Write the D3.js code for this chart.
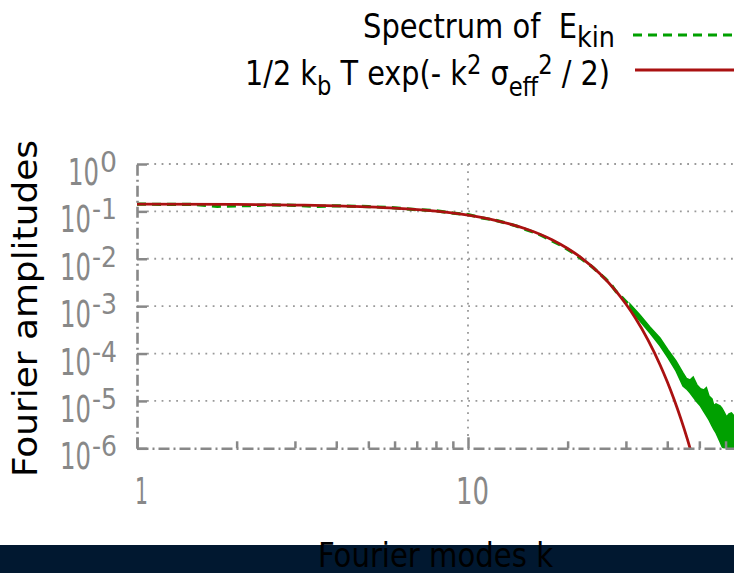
<!DOCTYPE html>
<html>
<head>
<meta charset="utf-8">
<script src="https://cdn.jsdelivr.net/npm/d3@7"></script>
<style>
  html, body { margin: 0; padding: 0; background: #fff; overflow: hidden; }
  svg { display: block; }
  text { font-family: "DejaVu Sans Condensed", "DejaVu Sans", sans-serif; font-stretch: condensed; }
</style>
</head>
<body>
<div id="chart"></div>
<script>
// Spectrum of E_kin (dashed green)
const kSpec = [1, 1.5, 1.75, 2, 2.25, 2.5, 3, 3.5, 4, 5, 6, 7, 8, 9, 10, 11, 12, 13, 14, 15,
  16, 17, 18, 19, 20, 21, 22, 23, 24, 25, 26, 27, 28, 29, 30, 31];
const ampSpec = [0.142, 0.140, 0.128, 0.131, 0.133, 0.138, 0.134, 0.128, 0.131, 0.126, 0.119,
  0.109, 0.103, 0.092, 0.086, 0.073, 0.066, 0.057, 0.049, 0.041, 0.0355, 0.029, 0.0235,
  0.0196, 0.0158, 0.0128, 0.0100, 0.0080, 0.0063, 0.0048, 0.0038, 0.0029, 0.00205,
  0.0016, 0.00125, 0.00098];

// noisy tail of the spectrum: upper / lower edge of the green band
const kTail = [30.86, 33.08, 35.46, 38.03, 40.21, 42.5, 44.62, 45.7, 46.85, 47.9, 49.18, 50.4,
  51.64, 52.5, 53.47, 54.6, 55.3, 56.14, 57.72, 58.5, 59.35, 60.4, 61.45, 62.5, 63.63, 66];
const tailUpper = [1.11e-3, 6.52e-4, 3.64e-4, 2.13e-4, 1.19e-4, 6.98e-5, 3.9e-5, 3.0e-5, 2.77e-5,
  3.2e-5, 2.18e-5, 1.8e-5, 1.71e-5, 1.9e-5, 1.27e-5, 1.1e-5, 8.0e-6, 8.64e-6, 7.85e-6, 7.0e-6,
  5.86e-6, 4.6e-6, 5.32e-6, 5.6e-6, 4.83e-6, 4.5e-6];
const tailLower = [8.73e-4, 4.87e-4, 2.72e-4, 1.45e-4, 8.07e-5, 4.3e-5, 2.07e-5, 1.8e-5, 1.48e-5,
  1.2e-5, 9.53e-6, 7.8e-6, 5.86e-6, 4.9e-6, 3.97e-6, 2.97e-6, 2.5e-6, 2.11e-6, 1.37e-6, 1.1e-6,
  9.7e-7, 9e-7, 9e-7, 9e-7, 9e-7, 9e-7];

// 1/2 kb T exp(-k^2 sigma_eff^2 / 2) (red)
const kFit = [1, 2, 3, 4, 5, 6, 8, 10, 12, 15, 18, 20, 22, 25, 28, 30, 32, 35, 38, 40, 42, 44, 46, 47];
const ampFit = [0.1422, 0.1399, 0.1362, 0.1312, 0.1249, 0.1177, 0.1012, 0.0833, 0.0657, 0.0424,
  0.0249, 0.01649, 0.01048, 0.00489, 0.002074, 0.001108, 5.67e-4, 1.916e-4, 5.87e-5, 2.53e-5,
  1.043e-5, 4.12e-6, 1.56e-6, 9.4e-7];

const yTickExp = [0, -1, -2, -3, -4, -5, -6];
const xMajor = [1, 10];
const xMajorLabels = ["1", "10"];
const xMinor = [2, 3, 4, 5, 6, 7, 8, 9, 20, 30, 40, 50, 60];

const width = 734, height = 573;
const plot = { left: 137, right: 734, top: 164, bottom: 448.3 };
const gray = "#888";
const green = "#00a000";
const red = "#aa1111";

const svg = d3.select("#chart").append("svg")
  .attr("width", width).attr("height", height);

const x = d3.scaleLog().domain([1, 63.63]).range([plot.left, plot.right]);
const y = d3.scaleLog().domain([1e-6, 1]).range([plot.bottom, plot.top]);

// grid
const grid = svg.append("g")
  .attr("stroke", "#999").attr("stroke-width", 1.8).attr("stroke-dasharray", "1.8,5.5");
grid.selectAll(".gy").data(yTickExp.slice(0, -1)).join("line")
  .attr("x1", plot.left + 10).attr("x2", plot.right)
  .attr("y1", d => y(10 ** d)).attr("y2", d => y(10 ** d));
grid.append("line")
  .attr("x1", x(10)).attr("x2", x(10))
  .attr("y1", plot.top).attr("y2", plot.bottom - 11);

// curves
svg.append("clipPath").attr("id", "clip").append("rect")
  .attr("x", plot.left).attr("y", plot.top)
  .attr("width", plot.right - plot.left).attr("height", plot.bottom - plot.top);
const curves = svg.append("g").attr("clip-path", "url(#clip)");

const specData = kSpec.map((k, i) => [k, ampSpec[i]]);
const tailData = kTail.map((k, i) => [k, tailUpper[i], tailLower[i]]);
const fitData = kFit.map((k, i) => [k, ampFit[i]]);

curves.append("path")
  .datum(specData)
  .attr("fill", "none").attr("stroke", green).attr("stroke-width", 3.2)
  .attr("stroke-dasharray", "9,6")
  .attr("d", d3.line().x(d => x(d[0])).y(d => y(d[1])));

curves.append("path")
  .datum(tailData)
  .attr("fill", green).attr("stroke", green).attr("stroke-width", 1.5)
  .attr("d", d3.area().x(d => x(d[0])).y0(d => y(d[2])).y1(d => y(d[1])));

curves.append("path")
  .datum(fitData)
  .attr("fill", "none").attr("stroke", red).attr("stroke-width", 2.8)
  .attr("d", d3.line().curve(d3.curveMonotoneX).x(d => x(d[0])).y(d => y(d[1])));

// axes
function styleAxis(g) {
  g.selectAll(".tick line").attr("stroke", gray).attr("stroke-width", 2.5);
  g.select(".domain").attr("stroke", gray).attr("stroke-width", 2.6)
    .attr("stroke-dasharray", "11,4,2,4");
}

svg.append("g")
  .attr("transform", `translate(${plot.left},0)`)
  .call(d3.axisLeft(y).tickValues(yTickExp.map(e => 10 ** e))
    .tickSizeInner(-10).tickSizeOuter(0).tickFormat(""))
  .call(styleAxis);

svg.append("g")
  .attr("transform", `translate(0,${plot.bottom})`)
  .call(d3.axisBottom(x).tickValues(xMinor).tickSizeInner(-7).tickSizeOuter(0).tickFormat(""))
  .call(g => g.select(".domain").remove())
  .call(styleAxis);

svg.append("g")
  .attr("transform", `translate(0,${plot.bottom})`)
  .call(d3.axisBottom(x).tickValues(xMajor).tickSizeInner(-11).tickSizeOuter(0).tickFormat(""))
  .call(styleAxis);

// y tick labels 10^n, right-aligned as a whole
const yl = svg.append("g").attr("fill", gray);
yl.selectAll(".base").data(yTickExp).join("text")
  .attr("x", d => d === 0 ? 99 : 91).attr("y", d => y(10 ** d) + 21)
  .attr("text-anchor", "end").attr("font-size", 37)
  .attr("textLength", 31).attr("lengthAdjust", "spacingAndGlyphs")
  .text("10");
yl.selectAll(".exp").data(yTickExp).join("text")
  .attr("x", 117).attr("y", d => y(10 ** d) + 8)
  .attr("text-anchor", "end").attr("font-size", 29)
  .attr("textLength", d => d === 0 ? 17 : 25).attr("lengthAdjust", "spacingAndGlyphs")
  .text(d => d === 0 ? "0" : "-" + (-d));

// x tick labels
svg.append("g").attr("fill", gray).selectAll("text").data(xMajor).join("text")
  .attr("x", d => x(d) + 4.5).attr("y", 504)
  .attr("text-anchor", "middle").attr("font-size", 37)
  .attr("textLength", (d, i) => i === 0 ? 13 : 33).attr("lengthAdjust", "spacingAndGlyphs")
  .text((d, i) => xMajorLabels[i]);

// y axis title
svg.append("text")
  .attr("transform", "translate(37,308.5) rotate(-90)")
  .attr("text-anchor", "middle").attr("font-size", 33).attr("fill", "#000")
  .attr("textLength", 337).attr("lengthAdjust", "spacingAndGlyphs")
  .text("Fourier amplitudes");

// key
const key1 = svg.append("text")
  .attr("x", 363).attr("y", 38).attr("font-size", 33).attr("fill", "#000")
  .attr("textLength", 252).attr("lengthAdjust", "spacingAndGlyphs");
key1.append("tspan").text("Spectrum of\u00a0\u00a0E");
key1.append("tspan").attr("font-size", 29).attr("dy", 9).text("kin");

const key2 = svg.append("text")
  .attr("x", 245).attr("y", 85).attr("font-size", 33).attr("fill", "#000")
  .attr("textLength", 365).attr("lengthAdjust", "spacingAndGlyphs");
key2.append("tspan").text("1/2 k");
key2.append("tspan").attr("font-size", 26).attr("dy", 10).text("b");
key2.append("tspan").attr("dy", -10).text("\u00a0T exp(- k");
key2.append("tspan").attr("font-size", 26).attr("dy", -11).text("2");
key2.append("tspan").attr("dy", 11).text("\u00a0\u03c3");
key2.append("tspan").attr("font-size", 26).attr("dy", 11).text("eff");
key2.append("tspan").attr("font-size", 26).attr("dy", -22).text("2");
key2.append("tspan").attr("dy", 11).text("\u00a0/ 2)");

svg.append("line")
  .attr("x1", 633).attr("x2", 740).attr("y1", 35).attr("y2", 35)
  .attr("stroke", green).attr("stroke-width", 3.2).attr("stroke-dasharray", "9,6");
svg.append("line")
  .attr("x1", 635).attr("x2", 740).attr("y1", 70).attr("y2", 70)
  .attr("stroke", red).attr("stroke-width", 2.8);

// dark band at the bottom with the x axis title
svg.append("rect")
  .attr("x", 0).attr("y", 545).attr("width", width).attr("height", height - 545)
  .attr("fill", "#011830");
svg.append("text")
  .attr("x", 435.5).attr("y", 567).attr("text-anchor", "middle")
  .attr("font-size", 33).attr("fill", "#000")
  .attr("textLength", 235).attr("lengthAdjust", "spacingAndGlyphs")
  .text("Fourier modes k");
</script>
</body>
</html>
